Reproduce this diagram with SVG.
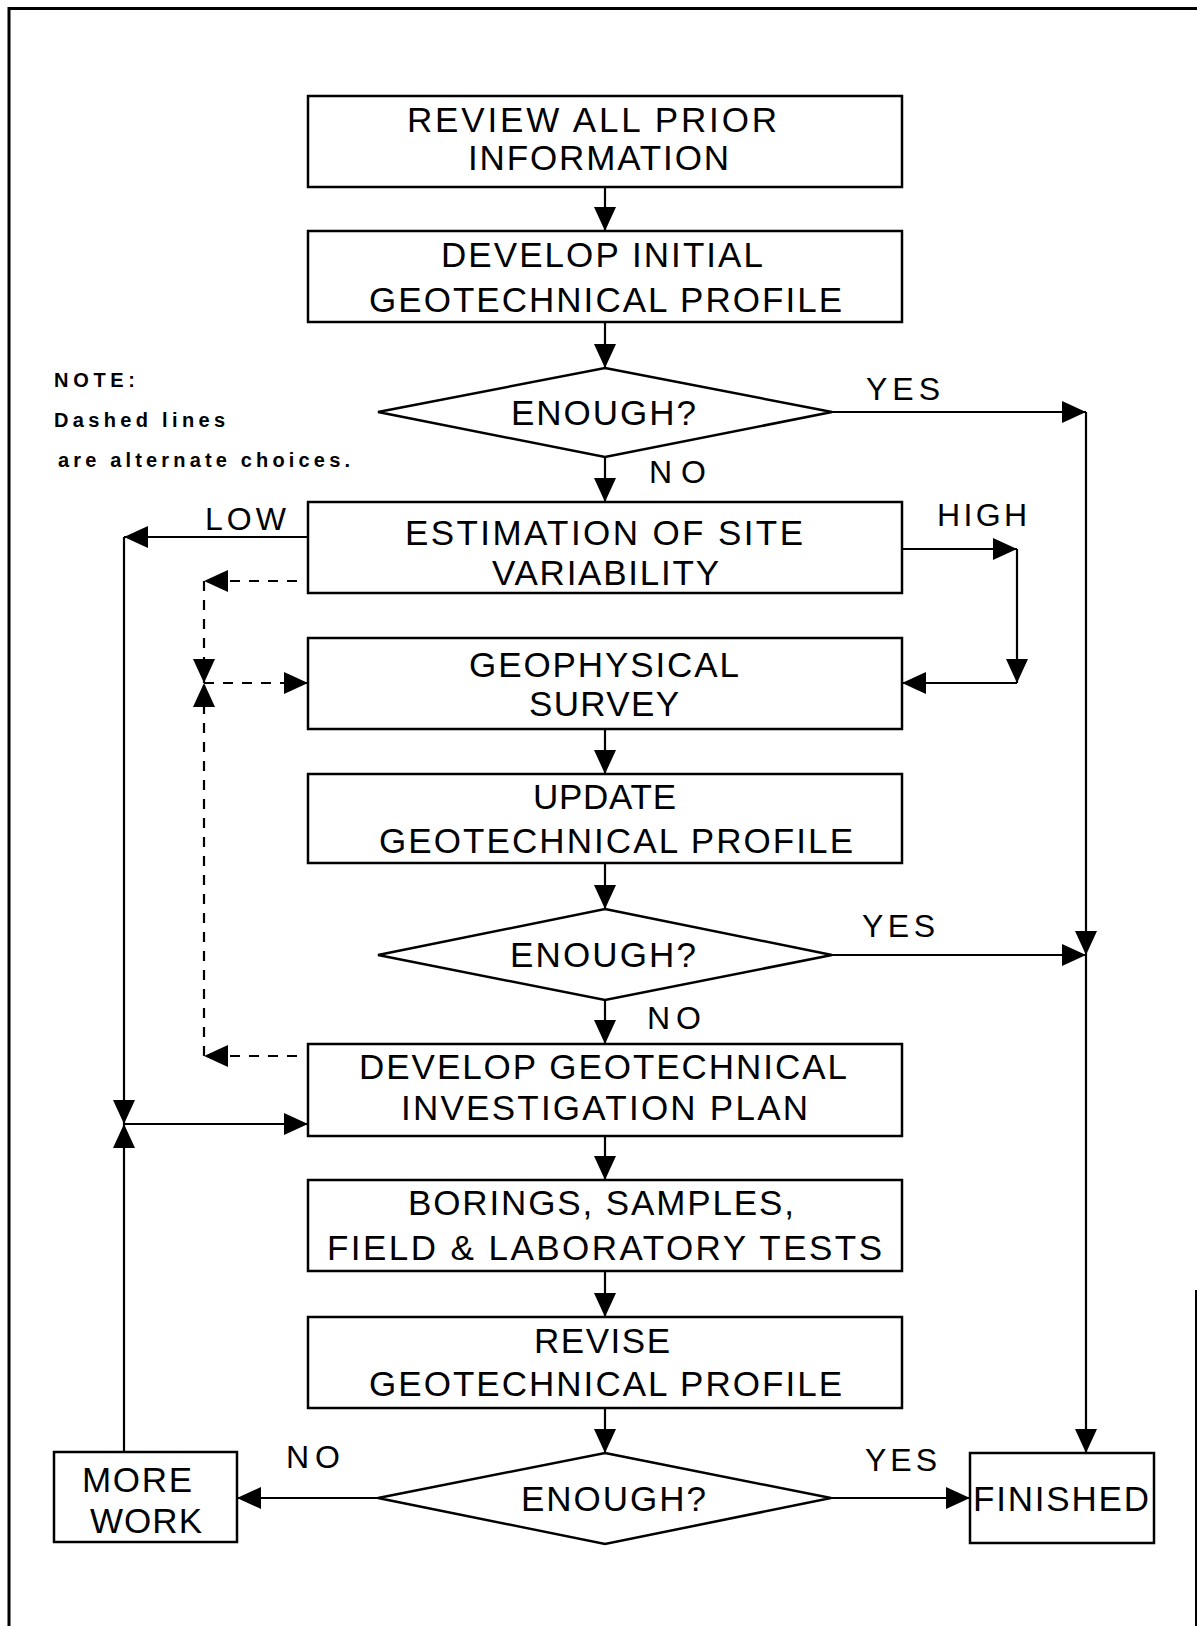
<svg xmlns="http://www.w3.org/2000/svg" width="1197" height="1626" viewBox="0 0 1197 1626">
<defs>
<marker id="ah" markerUnits="userSpaceOnUse" markerWidth="24" markerHeight="22" refX="24" refY="11" orient="auto" overflow="visible">
<path d="M0,0 L24,11 L0,22 Z" fill="#000"/>
</marker>
<style>
.box{fill:#fff;stroke:#000;stroke-width:2.5}
.t{font-family:"Liberation Sans",Arial,sans-serif;font-size:35px;fill:#000}
.lbl{font-family:"Liberation Sans",Arial,sans-serif;font-size:32px;fill:#000}
.note{font-family:"Liberation Sans",Arial,sans-serif;font-size:20px;font-weight:bold;fill:#000}
.ln{fill:none;stroke:#000;stroke-width:2.2}
.dash{fill:none;stroke:#000;stroke-width:2.2;stroke-dasharray:10 9}
.a{marker-end:url(#ah)}
</style>
</defs>
<rect width="1197" height="1626" fill="#fff"/>
<g id="frame" fill="none" stroke="#000">
<path d="M9,1626 L9,8.5 L1197,8.5" stroke-width="3"/>
<path d="M1196,1290 L1196,1626" stroke-width="2"/>
</g>
<g id="connectors">
<path class="ln a" d="M605,187 L605,231"/>
<path class="ln a" d="M605,322 L605,368"/>
<path class="ln a" d="M605,457 L605,502"/>
<path class="ln a" d="M832,412 L1086,412"/>
<path class="ln a" d="M1086,412 L1086,955"/>
<path class="ln a" d="M1086,955 L1086,1453"/>
<path class="ln a" d="M832,955 L1086,955"/>
<path class="ln a" d="M308,537 L124,537"/>
<path class="ln a" d="M124,537 L124,1124"/>
<path class="ln a" d="M124,1452 L124,1124"/>
<path class="ln a" d="M124,1124 L308,1124"/>
<path class="ln a" d="M902,549 L1017,549"/>
<path class="ln a" d="M1017,549 L1017,683"/>
<path class="ln a" d="M1017,683 L902,683"/>
<path class="dash a" d="M297,581 L204,581"/>
<path class="dash a" d="M204,581 L204,683"/>
<path class="dash a" d="M204,1056 L204,683"/>
<path class="dash a" d="M204,683 L308,683"/>
<path class="dash a" d="M297,1056 L204,1056"/>
<path class="ln a" d="M605,729 L605,774"/>
<path class="ln a" d="M605,863 L605,909"/>
<path class="ln a" d="M605,1000 L605,1044"/>
<path class="ln a" d="M605,1136 L605,1180"/>
<path class="ln a" d="M605,1271 L605,1317"/>
<path class="ln a" d="M605,1408 L605,1453"/>
<path class="ln a" d="M378,1498 L237,1498"/>
<path class="ln a" d="M831,1498 L970,1498"/>
</g>
<g id="note">
<text class="note" x="54" y="387" textLength="81" lengthAdjust="spacing">NOTE:</text>
<text class="note" x="54" y="427" textLength="171" lengthAdjust="spacing">Dashed lines</text>
<text class="note" x="58" y="467" textLength="292" lengthAdjust="spacing">are alternate choices.</text>
</g>
<g id="n1"><rect class="box" x="308" y="96" width="594" height="91"/>
<text class="t" x="407" y="132" textLength="370" lengthAdjust="spacing">REVIEW ALL PRIOR</text>
<text class="t" x="468" y="170" textLength="261" lengthAdjust="spacing">INFORMATION</text></g>
<g id="n2"><rect class="box" x="308" y="231" width="594" height="91"/>
<text class="t" x="441" y="267" textLength="322" lengthAdjust="spacing">DEVELOP INITIAL</text>
<text class="t" x="369" y="312" textLength="473" lengthAdjust="spacing">GEOTECHNICAL PROFILE</text></g>
<g id="d1"><polygon class="box" points="605,368 832,412 605,457 378,412"/>
<text class="t" x="511" y="425" textLength="185" lengthAdjust="spacing">ENOUGH?</text>
<text class="lbl" x="866" y="400" textLength="74" lengthAdjust="spacing">YES</text>
<text class="lbl" x="649" y="483" textLength="57" lengthAdjust="spacing">NO</text></g>
<g id="n3"><rect class="box" x="308" y="502" width="594" height="91"/>
<text class="t" x="405" y="545" textLength="398" lengthAdjust="spacing">ESTIMATION OF SITE</text>
<text class="t" x="492" y="585" textLength="227" lengthAdjust="spacing">VARIABILITY</text>
<text class="lbl" x="205" y="530" textLength="81" lengthAdjust="spacing">LOW</text>
<text class="lbl" x="937" y="526" textLength="90" lengthAdjust="spacing">HIGH</text></g>
<g id="n4"><rect class="box" x="308" y="638" width="594" height="91"/>
<text class="t" x="469" y="677" textLength="270" lengthAdjust="spacing">GEOPHYSICAL</text>
<text class="t" x="529" y="716" textLength="150" lengthAdjust="spacing">SURVEY</text></g>
<g id="n5"><rect class="box" x="308" y="774" width="594" height="89"/>
<text class="t" x="533" y="809" textLength="143" lengthAdjust="spacing">UPDATE</text>
<text class="t" x="379" y="853" textLength="474" lengthAdjust="spacing">GEOTECHNICAL PROFILE</text></g>
<g id="d2"><polygon class="box" points="605,909 832,955 605,1000 378,955"/>
<text class="t" x="510" y="967" textLength="186" lengthAdjust="spacing">ENOUGH?</text>
<text class="lbl" x="862" y="937" textLength="73" lengthAdjust="spacing">YES</text>
<text class="lbl" x="647" y="1029" textLength="54" lengthAdjust="spacing">NO</text></g>
<g id="n6"><rect class="box" x="308" y="1044" width="594" height="92"/>
<text class="t" x="359" y="1079" textLength="488" lengthAdjust="spacing">DEVELOP GEOTECHNICAL</text>
<text class="t" x="401" y="1120" textLength="407" lengthAdjust="spacing">INVESTIGATION PLAN</text></g>
<g id="n7"><rect class="box" x="308" y="1180" width="594" height="91"/>
<text class="t" x="408" y="1215" textLength="386" lengthAdjust="spacing">BORINGS, SAMPLES,</text>
<text class="t" x="327" y="1260" textLength="555" lengthAdjust="spacing">FIELD &amp; LABORATORY TESTS</text></g>
<g id="n8"><rect class="box" x="308" y="1317" width="594" height="91"/>
<text class="t" x="534" y="1353" textLength="136" lengthAdjust="spacing">REVISE</text>
<text class="t" x="369" y="1396" textLength="473" lengthAdjust="spacing">GEOTECHNICAL PROFILE</text></g>
<g id="d3"><polygon class="box" points="605,1453 831,1498 605,1544 378,1498"/>
<text class="t" x="521" y="1511" textLength="185" lengthAdjust="spacing">ENOUGH?</text>
<text class="lbl" x="286" y="1468" textLength="54" lengthAdjust="spacing">NO</text>
<text class="lbl" x="865" y="1471" textLength="72" lengthAdjust="spacing">YES</text></g>
<g id="more"><rect class="box" x="54" y="1452" width="183" height="90"/>
<text class="t" x="82" y="1492" textLength="110" lengthAdjust="spacing">MORE</text>
<text class="t" x="90" y="1533" textLength="112" lengthAdjust="spacing">WORK</text></g>
<g id="finished"><rect class="box" x="970" y="1453" width="184" height="90"/>
<text class="t" x="973" y="1511" textLength="176" lengthAdjust="spacing">FINISHED</text></g>
</svg>
